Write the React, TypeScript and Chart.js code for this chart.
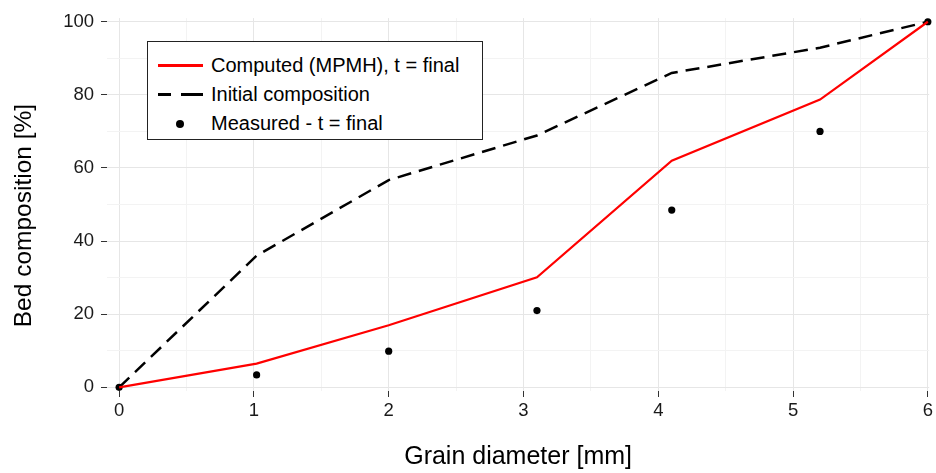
import React, { useEffect, useRef } from "react";
import { Chart, registerables } from "chart.js";

Chart.register(...registerables);

const xGrain = [0, 1.02, 2, 3.1, 4.1, 5.2, 6];
const computed = [0, 6.5, 17, 30.1, 62, 78.7, 100];
const initial = [0, 36, 56.7, 68.9, 86, 92.9, 100];
const measured = [0, 3.4, 9.9, 21, 48.5, 70, 100];
const legendLabels = ["Computed (MPMH), t = final", "Initial composition", "Measured - t = final"];
const xTicks = [0, 0.5, 1, 1.5, 2, 2.5, 3, 3.5, 4, 4.5, 5, 5.5, 6];
const yTicks = [0, 10, 20, 30, 40, 50, 60, 70, 80, 90, 100];
const xTitle = "Grain diameter [mm]";
const yTitle = "Bed composition [%]";

const FONT = "'Liberation Sans', Arial, sans-serif";

const toXY = (ys: number[]) => xGrain.map((x, i) => ({ x, y: ys[i] }));

const yTitlePlugin = {
  id: "yTitlePlugin",
  afterDraw(chart: any) {
    const ctx = chart.ctx;
    const area = chart.chartArea;
    ctx.save();
    ctx.translate(24.5, (area.top + area.bottom) / 2 + 11);
    ctx.rotate(-Math.PI / 2);
    ctx.font = `24.5px ${FONT}`;
    ctx.fillStyle = "#000";
    ctx.textAlign = "center";
    ctx.textBaseline = "middle";
    ctx.fillText(yTitle, 0, 0);
    ctx.restore();
  },
};

export default function App() {
  const ref = useRef<HTMLCanvasElement>(null);
  useEffect(() => {
    if (!ref.current) return;
    const isMajorX = (v: number) => Math.abs(v - Math.round(v)) < 1e-6;
    const isMajorY = (v: number) => Math.abs(v / 20 - Math.round(v / 20)) < 1e-6;
    const chart = new Chart(ref.current, {
      type: "scatter",
      data: {
        datasets: [
          {
            label: legendLabels[0],
            data: toXY(computed),
            showLine: true,
            borderColor: "#ff0000",
            borderWidth: 2.2,
            pointRadius: 0,
            fill: false,
          },
          {
            label: legendLabels[1],
            data: toXY(initial),
            showLine: true,
            borderColor: "#000000",
            borderWidth: 2.5,
            borderDash: [14, 8],
            pointRadius: 0,
            fill: false,
          },
          {
            label: legendLabels[2],
            data: toXY(measured),
            showLine: false,
            backgroundColor: "#000000",
            borderColor: "#000000",
            pointRadius: 3.6,
            pointBorderWidth: 0,
          },
        ],
      },
      plugins: [yTitlePlugin],
      options: {
        animation: false,
        responsive: true,
        maintainAspectRatio: false,
        clip: false as any,
        layout: { padding: { left: 0, right: 4, top: 16, bottom: 0 } },
        plugins: { legend: { display: false }, tooltip: { enabled: false } },
        scales: {
          x: {
            type: "linear",
            min: -0.09,
            max: 6.01,
            afterBuildTicks: (axis: any) => {
              axis.ticks = xTicks.map((v) => ({ value: v }));
            },
            afterFit: (axis: any) => {
              axis.height = 82;
            },
            border: { display: false },
            grid: {
              color: (ctx: any) => (isMajorX(ctx.tick?.value ?? 0) ? "#e6e6e6" : "#f3f3f3"),
              lineWidth: 1,
              tickLength: 6,
              tickColor: (ctx: any) => (isMajorX(ctx.tick?.value ?? 0) ? "#333333" : "rgba(0,0,0,0)"),
              drawTicks: true,
            },
            ticks: {
              autoSkip: false,
              maxRotation: 0,
              padding: 3,
              color: "#1a1a1a",
              font: { family: FONT, size: 18.5 },
              callback: (v: any) => (isMajorX(Number(v)) ? String(Math.round(Number(v))) : ""),
            },
            title: {
              display: true,
              text: xTitle,
              color: "#000",
              font: { family: FONT, size: 25 },
              padding: { top: 0, bottom: 1 },
            },
          },
          y: {
            type: "linear",
            min: -1,
            max: 101,
            afterBuildTicks: (axis: any) => {
              axis.ticks = yTicks.map((v) => ({ value: v }));
            },
            afterFit: (axis: any) => {
              axis.width = 107;
            },
            border: { display: false },
            grid: {
              color: (ctx: any) => (isMajorY(ctx.tick?.value ?? 0) ? "#e6e6e6" : "#f3f3f3"),
              lineWidth: 1,
              tickLength: 6,
              tickColor: (ctx: any) => (isMajorY(ctx.tick?.value ?? 0) ? "#333333" : "rgba(0,0,0,0)"),
            },
            ticks: {
              autoSkip: false,
              padding: 7,
              color: "#1a1a1a",
              font: { family: FONT, size: 18.5 },
              callback: (v: any) => (isMajorY(Number(v)) ? String(Math.round(Number(v))) : ""),
            },
            title: { display: false },
          },
        },
      },
    });
    return () => chart.destroy();
  }, []);

  const rowStyle: React.CSSProperties = {
    position: "absolute",
    left: 0,
    height: 29,
    width: 334,
    display: "flex",
    alignItems: "center",
    whiteSpace: "nowrap",
  };
  const textStyle: React.CSSProperties = {
    position: "absolute",
    left: 63,
    fontFamily: FONT,
    fontSize: 20,
    color: "#000",
  };

  return (
    <div style={{ position: "absolute", left: 0, top: 0, width: 936, height: 473, background: "#fff" }}>
      <canvas ref={ref} />
      <div
        style={{
          position: "absolute",
          left: 147,
          top: 41,
          width: 334,
          height: 97,
          border: "1px solid #222",
          background: "#fff",
        }}
      >
        <div style={{ ...rowStyle, top: 9 }}>
          <div style={{ position: "absolute", left: 10, width: 45, height: 2.5, background: "#ff0000" }} />
          <span style={textStyle}>{legendLabels[0]}</span>
        </div>
        <div style={{ ...rowStyle, top: 38 }}>
          <div style={{ position: "absolute", left: 10, width: 13, height: 2.5, background: "#000" }} />
          <div style={{ position: "absolute", left: 33, width: 22, height: 2.5, background: "#000" }} />
          <span style={textStyle}>{legendLabels[1]}</span>
        </div>
        <div style={{ ...rowStyle, top: 67 }}>
          <div
            style={{ position: "absolute", left: 28, width: 8, height: 8, borderRadius: 4, background: "#000" }}
          />
          <span style={textStyle}>{legendLabels[2]}</span>
        </div>
      </div>
    </div>
  );
}
